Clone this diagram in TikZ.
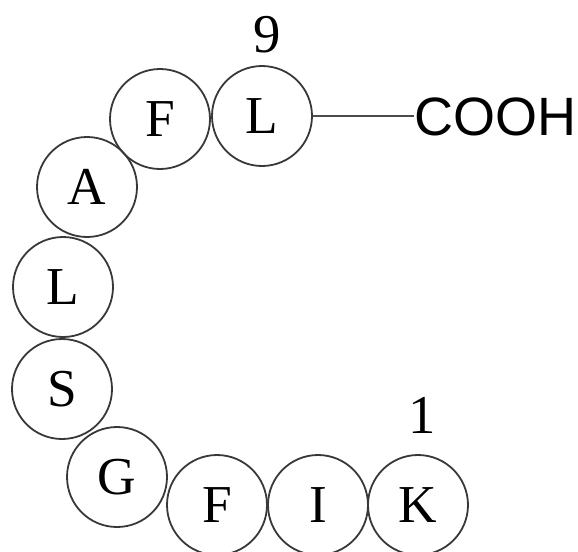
\documentclass[tikz,border=0pt]{standalone}
\usepackage{fontspec}
\setmainfont{Liberation Serif}
\newfontfamily\coohfont{Liberation Sans}
\begin{document}
\begin{tikzpicture}[x=0.75pt,y=-0.75pt,
  res/.style={circle,draw=black!78,line width=1.35pt,minimum size=75pt,inner sep=0pt,
    font=\fontsize{40pt}{40pt}\selectfont},
  numlab/.style={inner sep=0pt,anchor=base,font=\fontsize{41pt}{42pt}\selectfont},
  bond/.style={draw=black!70,line width=1.3pt}]
\useasboundingbox (0,0) rectangle (578,551);
\node[res] (L9) at (262,116) {L};
\node[res] (F8) at (160,119) {F};
\node[res] (A7) at (87,187) {A};
\node[res] (L6) at (63,287) {L};
\node[res] (S5) at (62,389) {S};
\node[res] (G4) at (117,477) {G};
\node[res] (F3) at (217,505) {F};
\node[res] (I2) at (318,505) {I};
\node[res] (K1) at (418,505) {K};
\node[numlab] (n9) at (267,52) {9};
\node[numlab] (n1) at (422,433) {1};
\node[inner sep=0pt,anchor=base west,font=\coohfont\fontsize{40.5pt}{41pt}\selectfont] (cooh) at (414,135) {COOH};
\draw[bond] (L9.east) -- (L9.east -| cooh.west);
\end{tikzpicture}
\end{document}
